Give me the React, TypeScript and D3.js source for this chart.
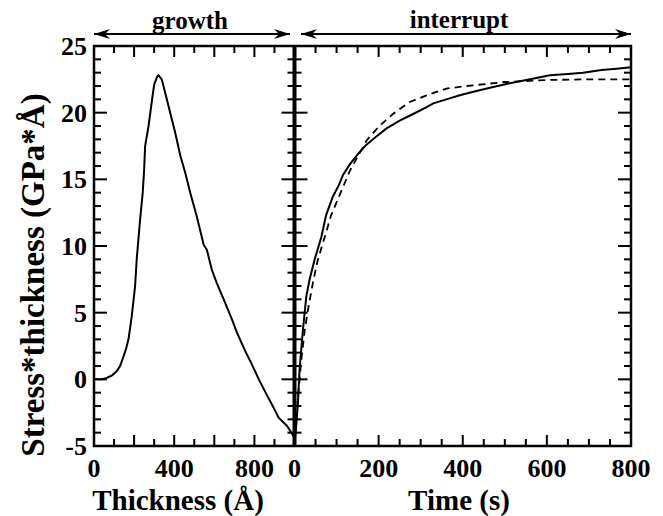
import React from 'react';
import * as d3 from 'd3';

// growth panel: stress*thickness vs film thickness
const growthThickness = [0, 40, 63, 90, 113, 130, 147, 160, 172, 188, 205, 213, 230, 243, 250, 255, 272, 288, 300, 315, 322, 338, 355, 380, 405, 430, 455, 480, 513, 547, 563, 588, 613, 647, 688, 713, 755, 788, 822, 863, 888, 922, 963, 997, 1000];
const growthStress = [0, 0, 0.1, 0.3, 0.6, 1.0, 1.7, 2.3, 3.0, 4.7, 7.0, 9.0, 12.0, 14.0, 15.7, 17.5, 19.0, 20.8, 22.1, 22.7, 22.8, 22.5, 21.5, 20.0, 18.5, 16.8, 15.5, 14.0, 12.2, 10.1, 9.7, 8.2, 7.2, 6.0, 4.5, 3.5, 2.1, 1.1, 0.0, -1.2, -1.9, -2.9, -3.5, -4.3, -4.8];

// interrupt panel: measured relaxation
const interruptTime = [0, 4, 8, 12, 20, 28, 36, 48, 64, 75, 91, 106, 115, 131, 151, 171, 194, 218, 250, 282, 313, 330, 361, 393, 430, 470, 512, 560, 607, 650, 686, 730, 766, 800];
const interruptStress = [-4.8, -3.5, -1.8, 0.7, 3.7, 6.2, 7.5, 9.0, 10.7, 12.3, 13.7, 14.6, 15.3, 16.1, 16.9, 17.6, 18.2, 18.8, 19.4, 19.9, 20.4, 20.7, 21.0, 21.3, 21.6, 21.9, 22.2, 22.5, 22.8, 22.9, 23.0, 23.2, 23.3, 23.4];

// interrupt panel: fit (dashed)
const fitTime = [0, 8, 16, 24, 32, 44, 55, 75, 87, 107, 131, 171, 202, 234, 274, 314, 361, 409, 500, 600, 700, 800];
const fitStress = [-4.8, -1.5, 1.4, 3.6, 5.2, 7.3, 8.9, 11.0, 12.3, 13.8, 15.6, 17.9, 19.0, 19.9, 20.8, 21.3, 21.8, 22.0, 22.3, 22.45, 22.5, 22.5];

const yLabels = [-5, 0, 5, 10, 15, 20, 25];
const leftXLabels = [0, 400, 800];
const rightXLabels = [0, 200, 400, 600, 800];

const W = 663;
const H = 516;
const top = 46;
const bottom = 446;
const font = '"Liberation Serif", "Times New Roman", serif';

export default function App() {
  const y = d3.scaleLinear().domain([-5, 25]).range([bottom, top]);
  const xL = d3.scaleLinear().domain([0, 1000]).range([94, 294.5]);
  const xR = d3.scaleLinear().domain([0, 800]).range([294.5, 631]);

  const lineL = d3.line<number>().x((d, i) => xL(growthThickness[i])).y(d => y(d));
  const lineR = d3.line<number>().x((d, i) => xR(interruptTime[i])).y(d => y(d));
  const lineF = d3.line<number>().x((d, i) => xR(fitTime[i])).y(d => y(d));

  const yTicks = d3.range(-5, 26, 1);
  const xLTicks = d3.range(100, 1000, 100);
  const xRTicks = d3.range(50, 800, 50);

  const tk = (major: boolean) => (major ? 13 : 7);

  return (
    <svg width={W} height={H} style={{ position: 'absolute', left: 0, top: 0, background: '#fff' }}>
      <defs>
        <marker id="ah" viewBox="0 0 16 10" refX="16" refY="5" markerWidth="16" markerHeight="10" markerUnits="userSpaceOnUse" orient="auto-start-reverse">
          <path d="M0,0 L16,5 L0,10 L5,5 Z" fill="#000" />
        </marker>
        <clipPath id="clipL"><rect x={94} y={top} width={200} height={bottom - top + 4} /></clipPath>
      </defs>

      {/* ticks */}
      <g stroke="#000" strokeWidth={2}>
        {yTicks.map(v => (
          <g key={'y' + v}>
            <line x1={94} x2={94 + tk(v % 5 === 0)} y1={y(v)} y2={y(v)} />
            <line x1={294.5 - tk(v % 5 === 0)} x2={294.5 + tk(v % 5 === 0)} y1={y(v)} y2={y(v)} />
            <line x1={631 - tk(v % 5 === 0)} x2={631} y1={y(v)} y2={y(v)} />
          </g>
        ))}
        {xLTicks.map(v => (
          <g key={'xl' + v}>
            <line x1={xL(v)} x2={xL(v)} y1={top} y2={top + (v % 200 === 0 ? 11 : 7)} />
            <line x1={xL(v)} x2={xL(v)} y1={bottom} y2={bottom - (v % 200 === 0 ? 11 : 7)} />
          </g>
        ))}
        {xRTicks.map(v => (
          <g key={'xr' + v}>
            <line x1={xR(v)} x2={xR(v)} y1={top} y2={top + (v % 200 === 0 ? 11 : 7)} />
            <line x1={xR(v)} x2={xR(v)} y1={bottom} y2={bottom - (v % 200 === 0 ? 11 : 7)} />
          </g>
        ))}
      </g>

      {/* data */}
      <path d={lineL(growthStress) ?? ''} fill="none" stroke="#000" strokeWidth={2} clipPath="url(#clipL)" />
      <path d={lineF(fitStress) ?? ''} fill="none" stroke="#000" strokeWidth={1.8} strokeDasharray="7,5" />
      <path d={lineR(interruptStress) ?? ''} fill="none" stroke="#000" strokeWidth={2} />

      {/* frame */}
      <rect x={94} y={top} width={631 - 94} height={bottom - top} fill="none" stroke="#000" strokeWidth={2.5} />
      <line x1={294.5} x2={294.5} y1={top} y2={bottom} stroke="#000" strokeWidth={4} />

      {/* tick labels */}
      <g fontFamily={font} fontWeight="bold" fontSize={26} fill="#000">
        {yLabels.map(v => (
          <text key={'yl' + v} x={87} y={y(v) + 9} textAnchor="end">{v}</text>
        ))}
        {leftXLabels.map(v => (
          <text key={'xll' + v} x={xL(v)} y={477} textAnchor="middle">{v}</text>
        ))}
        {rightXLabels.map(v => (
          <text key={'xrl' + v} x={xR(v)} y={477} textAnchor="middle">{v}</text>
        ))}
      </g>

      {/* axis titles */}
      <g fontFamily={font} fontWeight="bold" fill="#000">
        <text x={178} y={510} fontSize={29} textAnchor="middle">Thickness (Å)</text>
        <text x={459} y={510} fontSize={29} textAnchor="middle">Time (s)</text>
        <text transform="translate(44,275) rotate(-90)" fontSize={33} textAnchor="middle">Stress*thickness (GPa*Å)</text>
        <text x={190} y={29} fontSize={25} textAnchor="middle">growth</text>
        <text x={459} y={28} fontSize={25} textAnchor="middle">interrupt</text>
      </g>

      {/* phase arrows */}
      <line x1={94} x2={290} y1={34} y2={34} stroke="#000" strokeWidth={1.8} markerStart="url(#ah)" markerEnd="url(#ah)" />
      <line x1={301} x2={631} y1={34} y2={34} stroke="#000" strokeWidth={1.8} markerStart="url(#ah)" markerEnd="url(#ah)" />
    </svg>
  );
}
